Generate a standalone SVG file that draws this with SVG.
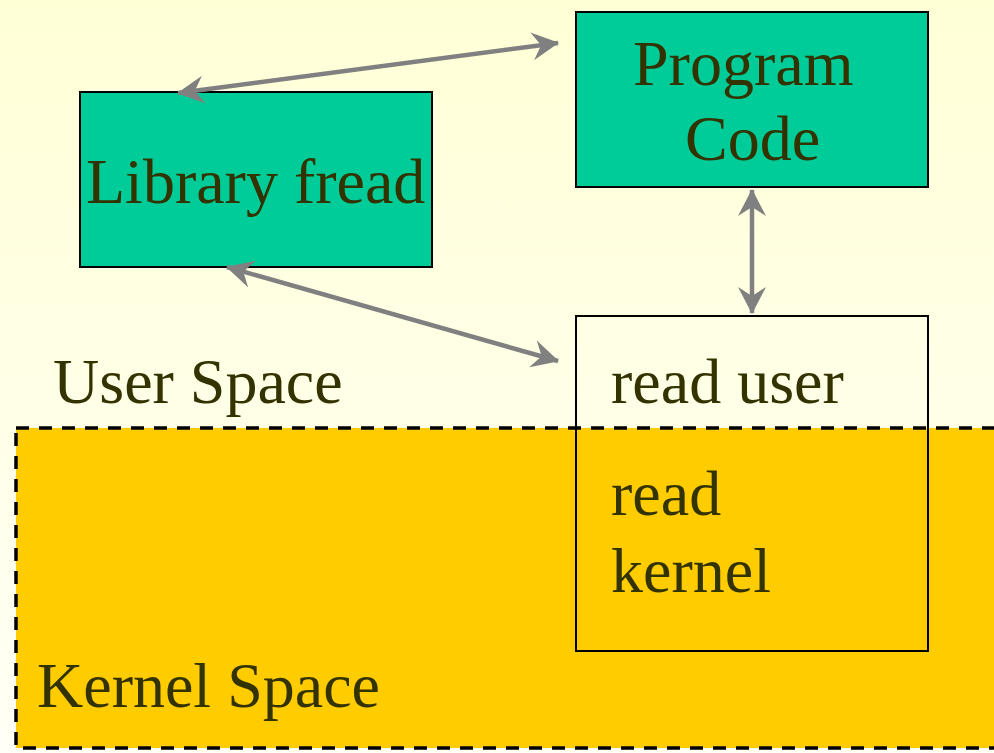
<svg xmlns="http://www.w3.org/2000/svg" width="994" height="753" viewBox="0 0 994 753">
  <defs>
    <linearGradient id="bg" x1="0" y1="0" x2="0" y2="1">
      <stop offset="0" stop-color="#FFFFD6"/>
      <stop offset="1" stop-color="#FFFFF6"/>
    </linearGradient>
    <marker id="head" viewBox="-30 -16 32 32" markerUnits="userSpaceOnUse" markerWidth="32" markerHeight="32" refX="0" refY="0" orient="auto-start-reverse">
      <path d="M1,0 L-26,-14 L-17,0 L-26,14 Z" fill="#808080"/>
    </marker>
    <style>
      .box { stroke: #000; stroke-width: 2; }
      .code { fill: #00CC99; }
      .label { font-size: 64px; fill: #333300; }
      .link { stroke: #808080; stroke-width: 4.5; fill: none; marker-start: url(#head); marker-end: url(#head); }
    </style>
  </defs>

  <!-- background -->
  <rect x="0" y="0" width="994" height="753" fill="url(#bg)"/>

  <g font-family="'Liberation Serif', 'DejaVu Serif', 'Times New Roman', Times, serif">
    <!-- kernel space region -->
    <g id="kernel-space">
      <rect x="16" y="428" width="1000" height="320" fill="#FFCC00" stroke="#000" stroke-width="3.5" stroke-dasharray="13 10"/>
      <text class="label" x="37" y="707">Kernel Space</text>
    </g>

    <!-- user space label -->
    <g id="user-space">
      <text class="label" x="53" y="403">User Space</text>
    </g>

    <!-- nodes -->
    <g id="library-fread">
      <rect class="box code" x="80" y="92" width="352" height="175"/>
      <text class="label" x="86" y="203">Library fread</text>
    </g>

    <g id="program-code">
      <rect class="box code" x="576" y="12" width="352" height="175"/>
      <text class="label" x="633" y="85">Program</text>
      <text class="label" x="685" y="160">Code</text>
    </g>

    <g id="read-syscall">
      <rect class="box" x="576" y="316" width="352" height="335" fill="none"/>
      <text class="label" x="611" y="403">read user</text>
      <text class="label" x="611" y="515">read</text>
      <text class="label" x="611" y="592">kernel</text>
    </g>
  </g>

  <!-- connectors -->
  <g id="connectors">
    <line class="link" x1="178" y1="93" x2="558" y2="43"/>
    <line class="link" x1="227" y1="267" x2="558" y2="361"/>
    <line class="link" x1="752" y1="190" x2="752" y2="313"/>
  </g>
</svg>
